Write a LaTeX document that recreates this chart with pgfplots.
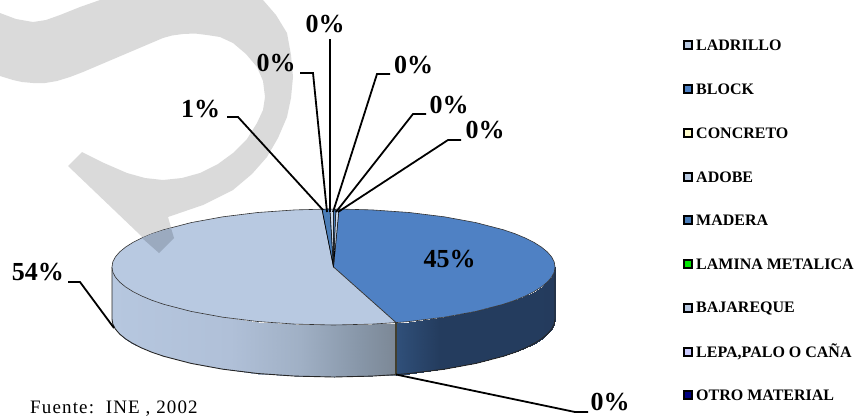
\documentclass[border=0pt]{standalone}
\usepackage{pgfplots}
\pgfplotsset{compat=1.18}
\usepackage{fontspec}
\setmainfont{Liberation Serif}
\newfontfamily\fuente[LetterSpace=6]{Liberation Serif}
\definecolor{wm}{HTML}{DADADA}
\definecolor{wmo}{HTML}{9BAABF}
\definecolor{lt}{HTML}{B8C9E1}
\definecolor{bl}{HTML}{4F81C4}
\definecolor{md}{HTML}{4A7DB8}
\newcommand{\dl}[3]{\node[font=\fontsize{26}{26}\selectfont\bfseries,inner sep=0pt] at (axis cs:#1,#2) {#3};}
\newcommand{\lgd}[3]{\addplot[only marks,mark=square*,mark size=4pt,mark options={draw=black,fill=#3,line width=2pt}] coordinates {(688,#1)};
\node[font=\fontsize{16}{16}\selectfont\bfseries,anchor=west,inner sep=0pt] at (axis cs:696,#1) {#2};}
\begin{document}
\begin{tikzpicture}
\useasboundingbox (0,0) rectangle (856pt,416pt);
\begin{axis}[at={(0,0)},anchor=south west,scale only axis,width=856pt,height=416pt,
 xmin=0,xmax=856,ymin=0,ymax=416,y dir=reverse,axis lines=none,ticks=none,clip=false,
 point meta min=0,point meta max=856,
 colormap={side}{rgb255(0pt)=(182,199,223); rgb255(112pt)=(182,199,223); rgb255(230pt)=(176,192,216); rgb255(300pt)=(160,176,197); rgb255(360pt)=(135,150,168); rgb255(395pt)=(124,136,150); rgb255(396pt)=(48,80,122); rgb255(440pt)=(36,60,94); rgb255(856pt)=(36,58,92)}]
% watermark
\addplot[fill=wm,draw=none] coordinates {(0,13)(16,19)(33,22)(46,20)(60,15)(80,7)(100,0)(263,0)(276,15)(287,33)(291,55)(293,77)(291,98)(287,117)(278,138)(267,157)(252,174)(233,190)(203,205)(168,217)(174,238)(159,253)(68,166)(82,152)(104,163)(127,173)(145,178)(163,180)(182,178)(200,173)(218,164)(233,153)(247,139)(257,123)(263,110)(265,97)(263,81)(257,67)(246,54)(233,43)(220,37)(207,35)(195,33.5)(183,34)(172,35.5)(163,38)(123,55)(83,72)(70,77)(57,81)(45,83)(33,83)(22,82)(13,80)(0,76)} --cycle;
% side left
\addplot[surf,shader=interp,mesh/cols=2,mesh/ordering=x varies,point meta=x] coordinates {
(112,267)(112,319)
(112.8,272.1)(112.8,324.1)
(115.4,277.1)(115.4,329.1)
(119.6,282)(119.6,334)
(125.4,286.8)(125.4,338.8)
(132.8,291.5)(132.8,343.5)
(141.7,296)(141.7,348)
(152,300.3)(152,352.3)
(163.8,304.3)(163.8,356.3)
(191.1,311.4)(191.1,363.4)
(222.8,317.2)(222.8,369.2)
(257.7,321.5)(257.7,373.5)
(295,324.1)(295,376.1)
(333.5,325)(333.5,377)
(372,324.1)(372,376.1)
(396,322.6)(396,374.6)
};
% side right
\addplot[surf,shader=interp,mesh/cols=2,mesh/ordering=x varies,point meta=x] coordinates {
(396.5,322.6)(396.5,374.6)
(409.3,321.5)(409.3,373.5)
(444.3,317.2)(444.3,369.2)
(475.9,311.4)(475.9,363.4)
(503.2,304.3)(503.2,356.3)
(515,300.3)(515,352.3)
(525.3,296)(525.3,348)
(534.2,291.5)(534.2,343.5)
(541.6,286.8)(541.6,338.8)
(547.4,282)(547.4,334)
(551.6,277.1)(551.6,329.1)
(554.2,272.1)(554.2,324.1)
(555,267)(555,319)
};
% side outlines
\addplot[draw=black!85,line width=0.9pt] coordinates {(112,267)(112,319)(112.8,324.1)(115.4,329.1)(119.6,334)(125.4,338.8)(132.8,343.5)(141.7,348)(152,352.3)(163.8,356.3)(191.1,363.4)(222.8,369.2)(257.7,373.5)(295,376.1)(333.5,377)(372,376.1)(396,374.6)(409.3,373.5)(444.3,369.2)(475.9,363.4)(503.2,356.3)(515,352.3)(525.3,348)(534.2,343.5)(541.6,338.8)(547.4,334)(551.6,329.1)(554.2,324.1)(555,319)(555,267)};
\addplot[draw=black!70!olive,line width=1.2pt] coordinates {(396,322.6)(396,374.6)};
% top: blue
\addplot[fill=bl,draw=black!80,line width=0.6pt] coordinates {(333.5,267)(339,209)(372,209.9)(409.3,212.5)(444.3,216.8)(475.9,222.6)(503.2,229.7)(515,233.7)(525.3,238)(534.2,242.5)(541.6,247.2)(547.4,252)(551.6,256.9)(554.2,261.9)(555,267)(554.2,272.1)(551.6,277.1)(547.4,282)(541.6,286.8)(534.2,291.5)(525.3,296)(515,300.3)(503.2,304.3)(475.9,311.4)(444.3,317.2)(409.3,321.5)(396,322.6)} --cycle;
% top: light
\addplot[fill=lt,draw=black!80,line width=0.6pt] coordinates {(333.5,267)(396,322.6)(372,324.1)(333.5,325)(295,324.1)(257.7,321.5)(222.8,317.2)(191.1,311.4)(163.8,304.3)(152,300.3)(141.7,296)(132.8,291.5)(125.4,286.8)(119.6,282)(115.4,277.1)(112.8,272.1)(112,267)(112.8,261.9)(115.4,256.9)(119.6,252)(125.4,247.2)(132.8,242.5)(141.7,238)(152,233.7)(163.8,229.7)(191.1,222.6)(222.8,216.8)(257.7,212.5)(295,209.9)(322,209.2)} --cycle;
% small slices
\addplot[fill=md,draw=black,line width=0.7pt] coordinates {(333.5,267)(322,209.2)(330,209)} --cycle;
\addplot[fill=lt!70!white,draw=black,line width=0.5pt] coordinates {(333.5,267)(330,209)(333.5,209)} --cycle;
\addplot[fill=md,draw=black,line width=0.5pt] coordinates {(333.5,267)(333.5,209)(336,209)} --cycle;
\addplot[fill=lt!80!white,draw=black,line width=0.5pt] coordinates {(333.5,267)(336,209)(339,209)} --cycle;
% watermark overlap
\addplot[fill=wmo,draw=none] coordinates {(142,238)(159,253)(174,238)(171,228)(152,233.7)} --cycle;
% leaders
\addplot[black,line width=2.2pt] coordinates {(330,39)(330,212)};
\addplot[black,line width=1.8pt] coordinates {(300,73)(313,73)(327,212)};
\addplot[black,line width=1.8pt] coordinates {(227,117)(238,117)(323,210)};
\addplot[black,line width=1.8pt] coordinates {(390,74)(377,74)(333,212)};
\addplot[black,line width=1.8pt] coordinates {(426,114)(413,114)(336,212)};
\addplot[black,line width=1.8pt] coordinates {(461,140)(448,140)(338,212)};
\addplot[black,line width=1.8pt] coordinates {(68,282)(80,282)(114,328)};
\addplot[black,line width=1.8pt] coordinates {(396,374.5)(575,412)(588,412)};
% data labels
\dl{325}{24}{0\%}
\dl{276}{63.5}{0\%}
\dl{200.5}{109}{1\%}
\dl{413.5}{65.5}{0\%}
\dl{449}{105}{0\%}
\dl{485}{130}{0\%}
\dl{449.5}{259}{45\%}
\dl{38}{272}{54\%}
\dl{610}{402.5}{0\%}
% legend
\lgd{45}{LADRILLO}{lt}
\lgd{89}{BLOCK}{bl}
\lgd{133}{CONCRETO}{yellow!20!white}
\lgd{177}{ADOBE}{lt}
\lgd{220}{MADERA}{md}
\lgd{264}{LAMINA METALICA}{green!90!black}
\lgd{308}{BAJAREQUE}{lt}
\lgd{352}{LEPA,PALO O CAÑA}{blue!20!white}
\lgd{395}{OTRO MATERIAL}{blue!50!black}
\node[font=\fontsize{19}{19}\selectfont\fuente,anchor=base west,inner sep=0pt] at (axis cs:30,413) {Fuente:\ \ INE , 2002};
\end{axis}
\end{tikzpicture}
\end{document}
